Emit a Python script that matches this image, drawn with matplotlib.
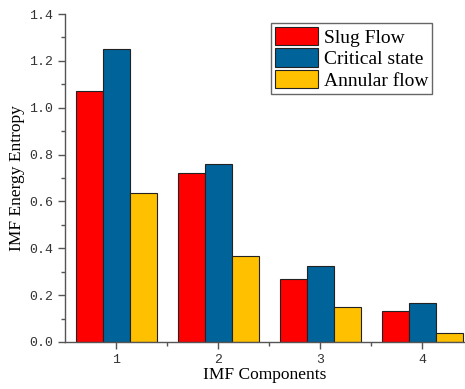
import matplotlib.pyplot as plt
import numpy as np
from matplotlib.ticker import MultipleLocator

components = [1, 2, 3, 4]
slug_flow = [1.07, 0.72, 0.27, 0.13]
critical_state = [1.25, 0.76, 0.325, 0.165]
annular_flow = [0.635, 0.365, 0.148, 0.037]

series = [
    ("Slug Flow", slug_flow, "#FF0000"),
    ("Critical state", critical_state, "#00639A"),
    ("Annular flow", annular_flow, "#FFC000"),
]

fig = plt.figure(figsize=(4.65, 3.89), dpi=100)
ax = fig.add_axes([0.14, 0.121, 0.86, 0.843])

x = np.array(components)
width = 0.265
for i, (label, vals, color) in enumerate(series):
    ax.bar(x + (i - 1) * width, vals, width, color=color, edgecolor="#222222",
           linewidth=0.8, label=label)

ax.set_xlim(0.5, 4.42)
ax.set_ylim(0, 1.4)
ax.set_xticks(components)
ax.xaxis.set_minor_locator(plt.FixedLocator([1.5, 2.5, 3.5]))
ax.yaxis.set_major_locator(MultipleLocator(0.2))
ax.yaxis.set_minor_locator(MultipleLocator(0.1))
ax.yaxis.set_major_formatter(plt.FormatStrFormatter("%.1f"))

for s in ["top", "right"]:
    ax.spines[s].set_visible(False)
for s in ["left", "bottom"]:
    ax.spines[s].set_color("#555555")
    ax.spines[s].set_linewidth(1.0)

ax.tick_params(which="major", length=5, width=1, color="#555555",
               labelsize=9.5, labelcolor="#333333")
ax.tick_params(which="minor", length=3, width=1, color="#555555")
for lbl in ax.get_xticklabels() + ax.get_yticklabels():
    lbl.set_family("Liberation Mono")

ax.set_xlabel("IMF Components", family="Liberation Serif", fontsize=12.5, labelpad=1)
ax.set_ylabel("IMF Energy Entropy", family="Liberation Serif", fontsize=12.5, labelpad=3)

leg = ax.legend(loc="upper right", bbox_to_anchor=(0.9175, 0.973),
                prop={"family": "Liberation Serif", "size": 14},
                handlelength=2.2, handleheight=1.1, labelspacing=0.08,
                handletextpad=0.3, borderpad=0.2, borderaxespad=0,
                fancybox=False, framealpha=1, edgecolor="#666666")
leg.get_frame().set_linewidth(1.0)

fig.savefig("out.png", dpi=100)
